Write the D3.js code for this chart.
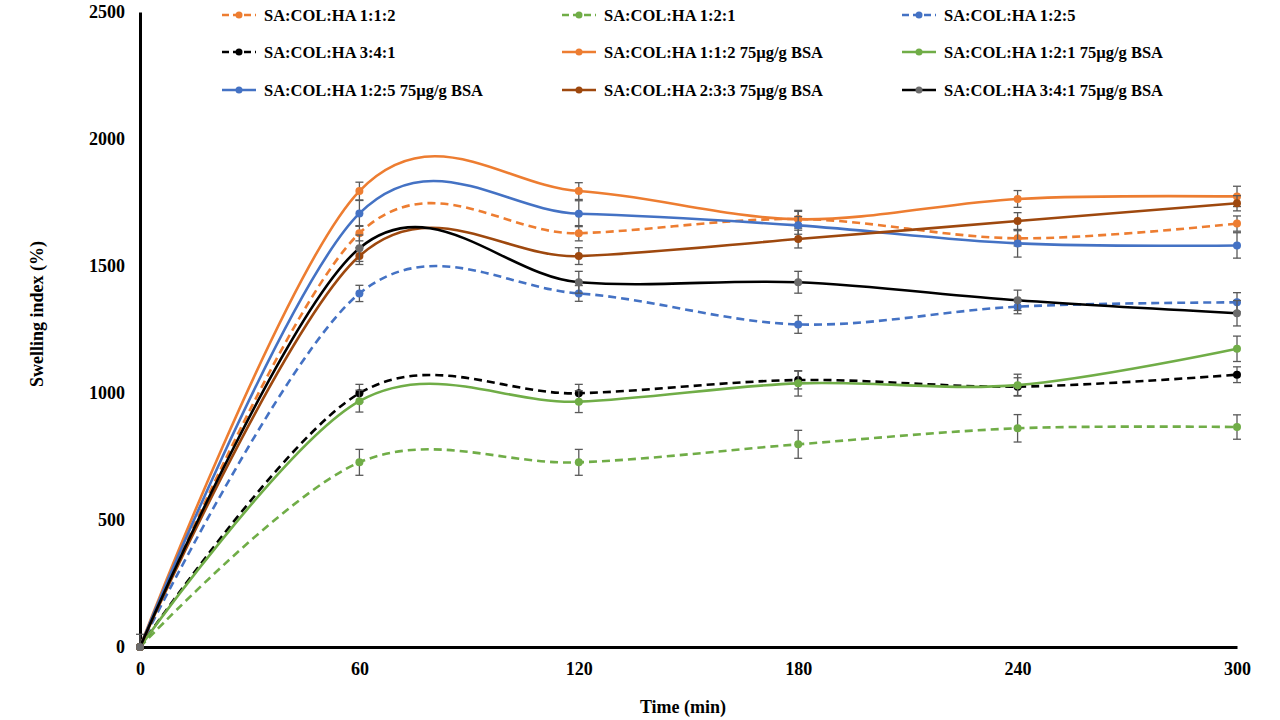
<!DOCTYPE html>
<html>
<head>
<meta charset="utf-8">
<script src="https://cdn.jsdelivr.net/npm/d3@7"></script>
<style>
  body { margin: 0; background: #fff; }
  svg text { font-family: "Times New Roman", "Liberation Serif", "DejaVu Serif", serif; font-weight: bold; fill: #000; }
</style>
</head>
<body>
<div class="chart"></div>
<script>
// time points (min)
const times = [0, 60, 120, 180, 240, 300];
const yTicks = [0, 500, 1000, 1500, 2000, 2500];

const seriesNames = [
  'SA:COL:HA 1:1:2', 'SA:COL:HA 1:2:1', 'SA:COL:HA 1:2:5',
  'SA:COL:HA 3:4:1', 'SA:COL:HA 1:1:2 75µg/g BSA', 'SA:COL:HA 1:2:1 75µg/g BSA',
  'SA:COL:HA 1:2:5 75µg/g BSA', 'SA:COL:HA 2:3:3 75µg/g BSA', 'SA:COL:HA 3:4:1 75µg/g BSA'
];
const swelling = [
  [0, 1629, 1629, 1685, 1609, 1667],
  [0, 727, 727, 798, 861, 866],
  [0, 1392, 1392, 1270, 1340, 1357],
  [0, 999, 999, 1051, 1025, 1072],
  [0, 1795, 1795, 1684, 1764, 1774],
  [0, 968, 966, 1038, 1031, 1174],
  [0, 1707, 1706, 1660, 1589, 1581],
  [0, 1539, 1539, 1606, 1677, 1747],
  [0, 1570, 1436, 1436, 1365, 1314]
];
const errors = [
  [0, 30, 30, 30, 30, 30],
  [0, 51, 51, 55, 54, 48],
  [0, 32, 31, 35, 28, 38],
  [0, 35, 35, 35, 35, 31],
  [0, 35, 33, 35, 33, 40],
  [0, 43, 43, 50, 43, 50],
  [0, 51, 51, 35, 54, 50],
  [0, 33, 33, 35, 33, 30],
  [50, 52, 43, 43, 40, 50]
];
const lineColors = ['#ED7D31', '#70AD47', '#4472C4', '#000000', '#ED7D31', '#70AD47', '#4472C4', '#9E480E', '#000000'];
const markerColors = ['#ED7D31', '#70AD47', '#4472C4', '#000000', '#ED7D31', '#70AD47', '#4472C4', '#9E480E', '#6B6B6B'];
const dashed = [true, true, true, true, false, false, false, false, false];

const svg_width = 1280, svg_height = 720;
const margin = {top: 12, right: 43, bottom: 73, left: 140};
const chart_width = svg_width - margin.left - margin.right;
const chart_height = svg_height - margin.top - margin.bottom;

const svg = d3.select('.chart').append('svg')
  .attr('width', svg_width).attr('height', svg_height);
const g = svg.append('g').attr('transform', `translate(${margin.left},${margin.top})`);

const xScale = d3.scaleLinear([0, 300], [0, chart_width]);
const yScale = d3.scaleLinear([0, 2500], [chart_height, 0]);

// axes
const xAxis = d3.axisBottom(xScale).tickValues(times).tickSize(0).tickPadding(15);
const yAxis = d3.axisLeft(yScale).tickValues(yTicks).tickSize(0).tickPadding(15)
  .tickFormat(d3.format('d'));
const xAxisDraw = g.append('g').attr('transform', `translate(0,${chart_height})`).call(xAxis);
const yAxisDraw = g.append('g').call(yAxis);
[xAxisDraw, yAxisDraw].forEach(a => {
  a.attr('font-family', null).attr('font-size', null);
  a.select('.domain').attr('stroke', '#000').attr('stroke-width', 3);
  a.selectAll('text').style('font-size', '18px');
});

// titles
svg.append('text').attr('x', 683).attr('y', 713).attr('text-anchor', 'middle')
  .style('font-size', '18px').text('Time (min)');
svg.append('text').attr('transform', 'translate(43,314) rotate(-90)').attr('text-anchor', 'middle')
  .style('font-size', '18px').text('Swelling index (%)');

const line = d3.line()
  .x(d => xScale(d[0])).y(d => yScale(d[1]))
  .curve(d3.curveCardinal.tension(0));

const plot = g.append('g');
seriesNames.forEach((name, i) => {
  const pts = times.map((t, j) => [t, swelling[i][j], errors[i][j]]);
  const s = plot.append('g').attr('class', 'series');
  s.append('path').datum(pts).attr('d', line)
    .attr('fill', 'none').attr('stroke', lineColors[i]).attr('stroke-width', 2.6)
    .attr('stroke-dasharray', dashed[i] ? '8,5' : null);
  // error bars
  const eb = s.selectAll('.err').data(pts.filter(d => d[2] > 0)).join('g').attr('class', 'err')
    .attr('stroke', '#595959').attr('stroke-width', 1.3);
  eb.append('line').attr('x1', d => xScale(d[0])).attr('x2', d => xScale(d[0]))
    .attr('y1', d => yScale(Math.max(0, d[1] - d[2]))).attr('y2', d => yScale(d[1] + d[2]));
  eb.append('line').attr('x1', d => xScale(d[0]) - 4).attr('x2', d => xScale(d[0]) + 4)
    .attr('y1', d => yScale(d[1] + d[2])).attr('y2', d => yScale(d[1] + d[2]));
  eb.filter(d => d[1] - d[2] > 0).append('line')
    .attr('x1', d => xScale(d[0]) - 4).attr('x2', d => xScale(d[0]) + 4)
    .attr('y1', d => yScale(d[1] - d[2])).attr('y2', d => yScale(d[1] - d[2]));
  s.selectAll('circle').data(pts).join('circle')
    .attr('cx', d => xScale(d[0])).attr('cy', d => yScale(d[1])).attr('r', 4)
    .attr('fill', markerColors[i]);
});

// legend
const legendCols = [222, 562, 902];
const legendRows = [15, 52, 90];
const legend = svg.append('g');
seriesNames.forEach((name, i) => {
  const lx = legendCols[i % 3], ly = legendRows[Math.floor(i / 3)];
  const item = legend.append('g').attr('transform', `translate(${lx},${ly})`);
  item.append('line').attr('x1', 0).attr('x2', 34).attr('y1', 0).attr('y2', 0)
    .attr('stroke', lineColors[i]).attr('stroke-width', 2.6)
    .attr('stroke-dasharray', dashed[i] ? '7,4' : null);
  item.append('circle').attr('cx', 17).attr('cy', 0).attr('r', 3.5).attr('fill', markerColors[i]);
  item.append('text').attr('x', 42).attr('y', 6).style('font-size', '16.5px').text(name);
});
</script>
</body>
</html>
